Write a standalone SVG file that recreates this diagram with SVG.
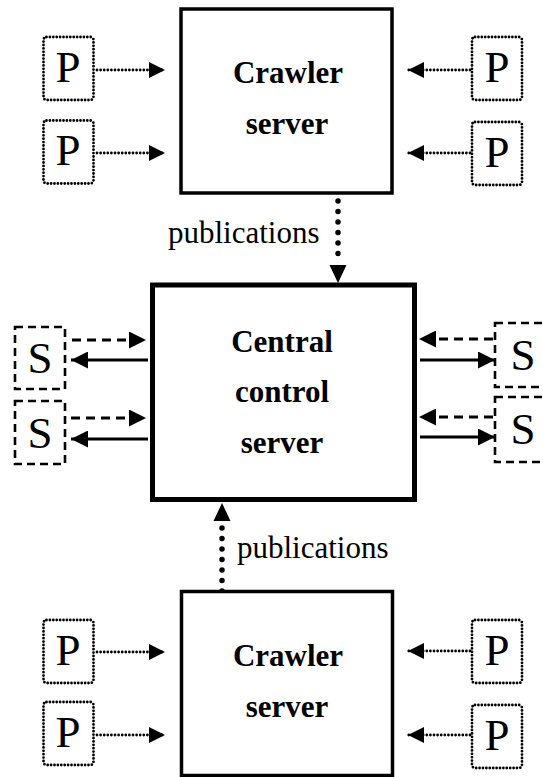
<svg xmlns="http://www.w3.org/2000/svg" width="543" height="777" viewBox="0 0 543 777">
<style>
.bg{fill:#fff}
.srv{fill:#fff;stroke:#000}
.pbox{fill:#fff;stroke:#000;stroke-width:2.8;stroke-dasharray:0 3.4;stroke-linecap:round}
.sbox{fill:#fff;stroke:#000;stroke-width:2.6;stroke-dasharray:8 5}
.big{font-family:"Liberation Serif","Times New Roman",serif;font-size:45px;text-anchor:middle;fill:#000}
.lbl{font-family:"Liberation Serif","Times New Roman",serif;font-size:31px;font-weight:bold;text-anchor:middle;fill:#000}
.pub{font-family:"Liberation Serif","Times New Roman",serif;font-size:31px;fill:#000}
.dot{fill:none;stroke:#000;stroke-width:2.8;stroke-dasharray:0 3.6;stroke-linecap:round}
.bigdot{fill:none;stroke:#000;stroke-width:5.5;stroke-dasharray:0 10.5;stroke-linecap:round}
.dash{fill:none;stroke:#000;stroke-width:3;stroke-dasharray:9 6}
.solid{fill:none;stroke:#000;stroke-width:3.2}
</style>
<defs>
<marker id="ah" viewBox="0 0 16 16" refX="16" refY="8" markerWidth="16" markerHeight="16" markerUnits="userSpaceOnUse" orient="auto"><path d="M0,0 L16,8 L0,16 Z" fill="#000"/></marker>
<marker id="ah2" viewBox="0 0 17 17" refX="17" refY="8.5" markerWidth="17" markerHeight="17" markerUnits="userSpaceOnUse" orient="auto"><path d="M0,0 L17,8.5 L0,17 Z" fill="#000"/></marker>
</defs>
<rect class="bg" x="0" y="0" width="543" height="777"/>

<g id="connectors">
  <path class="dot" d="M97,70 H165" marker-end="url(#ah)"/>
  <path class="dot" d="M97,153 H165" marker-end="url(#ah)"/>
  <path class="dot" d="M470,70 H408" marker-end="url(#ah)"/>
  <path class="dot" d="M470,153 H408" marker-end="url(#ah)"/>
  <path class="bigdot" d="M338,201 V262"/>
  <path d="M329.5,265 L346.5,265 L338,283 Z" fill="#000"/>
  <path class="bigdot" d="M222,591 V525"/>
  <path d="M213.5,521 L230.5,521 L222,503 Z" fill="#000"/>
  <path class="dash" d="M72,340 H146" marker-end="url(#ah2)"/>
  <path class="solid" d="M148,360 H71" marker-end="url(#ah2)"/>
  <path class="dash" d="M71,418 H146" marker-end="url(#ah2)"/>
  <path class="solid" d="M148,439 H71" marker-end="url(#ah2)"/>
  <path class="dash" d="M493,339 H419" marker-end="url(#ah2)"/>
  <path class="solid" d="M420,360 H495" marker-end="url(#ah2)"/>
  <path class="dash" d="M493,417 H419" marker-end="url(#ah2)"/>
  <path class="solid" d="M420,437 H495" marker-end="url(#ah2)"/>
  <path class="dot" d="M97,652 H165" marker-end="url(#ah)"/>
  <path class="dot" d="M97,735 H165" marker-end="url(#ah)"/>
  <path class="dot" d="M470,651 H408" marker-end="url(#ah)"/>
  <path class="dot" d="M470,735 H408" marker-end="url(#ah)"/>
</g>

<g id="crawler-top">
  <rect class="srv" x="181" y="9" width="211" height="184" stroke-width="3.5"/>
  <text class="lbl" x="288" y="83">Crawler</text>
  <text class="lbl" x="287" y="134">server</text>
</g>

<g id="central">
  <rect class="srv" x="152.5" y="285" width="262" height="214.5" stroke-width="5"/>
  <text class="lbl" x="282" y="352">Central</text>
  <text class="lbl" x="282" y="402">control</text>
  <text class="lbl" x="282" y="453">server</text>
</g>

<g id="crawler-bottom">
  <rect class="srv" x="181.5" y="591.5" width="211" height="184" stroke-width="3.5"/>
  <text class="lbl" x="288" y="666">Crawler</text>
  <text class="lbl" x="287" y="717">server</text>
</g>

<g id="label-pub-top"><text class="pub" x="168" y="243">publications</text></g>
<g id="label-pub-bottom"><text class="pub" x="237" y="558">publications</text></g>

<g id="p-tl1"><rect class="pbox" x="43.5" y="37" width="50" height="63" rx="3"/><text class="big" x="68" y="82">P</text></g>
<g id="p-tl2"><rect class="pbox" x="43.5" y="120.5" width="50" height="63" rx="3"/><text class="big" x="68" y="165">P</text></g>
<g id="p-tr1"><rect class="pbox" x="472" y="37" width="50" height="63" rx="3"/><text class="big" x="497" y="82">P</text></g>
<g id="p-tr2"><rect class="pbox" x="472" y="122" width="50" height="63" rx="3"/><text class="big" x="497" y="167">P</text></g>

<g id="p-bl1"><rect class="pbox" x="43.5" y="620" width="50" height="63" rx="3"/><text class="big" x="68" y="665">P</text></g>
<g id="p-bl2"><rect class="pbox" x="43.5" y="702" width="50" height="63" rx="3"/><text class="big" x="68" y="747">P</text></g>
<g id="p-br1"><rect class="pbox" x="472" y="620" width="50" height="63" rx="3"/><text class="big" x="497" y="665">P</text></g>
<g id="p-br2"><rect class="pbox" x="472" y="705" width="50" height="63" rx="3"/><text class="big" x="497" y="750">P</text></g>

<g id="s-l1"><rect class="sbox" x="15" y="327" width="50" height="62"/><text class="big" x="40" y="373">S</text></g>
<g id="s-l2"><rect class="sbox" x="15" y="401" width="50" height="63"/><text class="big" x="40" y="448">S</text></g>
<g id="s-r1"><rect class="sbox" x="495" y="323" width="55" height="64"/><text class="big" x="523" y="370">S</text></g>
<g id="s-r2"><rect class="sbox" x="495" y="397" width="55" height="65"/><text class="big" x="523" y="444">S</text></g>
</svg>
